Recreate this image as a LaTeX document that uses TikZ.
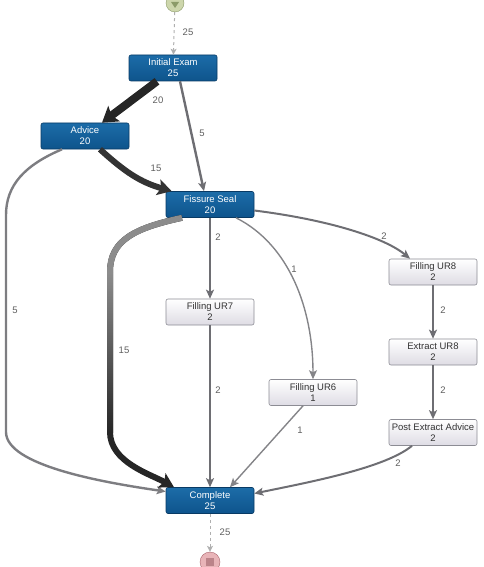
\documentclass[tikz,border=0pt]{standalone}
\usepackage{fontspec}
\setmainfont{Liberation Sans}
\usepackage{tikz}
\usetikzlibrary{arrows.meta, shapes.geometric}
\definecolor{myblue}{RGB}{14,84,140}
\definecolor{mybluetop}{RGB}{28,108,168}
\definecolor{mybluedark}{RGB}{8,58,100}
\definecolor{mylight}{RGB}{222,220,228}
\definecolor{myframe}{RGB}{140,140,148}
\definecolor{myedge}{RGB}{110,110,115}
\definecolor{mylabel}{RGB}{95,95,95}
\definecolor{mydash}{RGB}{175,175,175}
\definecolor{mystart}{RGB}{205,214,172}
\definecolor{mystartdark}{RGB}{140,155,105}
\definecolor{myend}{RGB}{232,180,184}
\definecolor{myenddark}{RGB}{170,100,108}
\tikzset{
  actblock/.style={rectangle, draw=mybluedark, top color=mybluetop, bottom color=myblue,
    text=white, minimum width=88pt, minimum height=26pt, inner sep=1pt,
    align=center, rounded corners=2pt, line width=0.6pt,
    font=\fontsize{9.5}{11}\selectfont},
  lightblock/.style={rectangle, draw=myframe, top color=white, bottom color=mylight,
    text=black!80, minimum width=88pt, minimum height=26pt, inner sep=1pt,
    align=center, rounded corners=2pt, line width=0.6pt,
    font=\fontsize{9.5}{11}\selectfont},
  elabel/.style={font=\fontsize{9.5}{10}\selectfont, text=mylabel, inner sep=0pt},
  flow/.style={-{Stealth[length=9pt, width=8pt, inset=2pt]}, line width=2pt, color=myedge},
  thinflow/.style={-{Stealth[length=9pt, width=8pt, inset=2pt]}, line width=1.4pt, color=myedge!85},
  dashflow/.style={-{Stealth[length=6pt, width=6pt, inset=1.5pt]}, line width=1pt, color=mydash, dashed}
}
\begin{document}
\begin{tikzpicture}[x=1pt, y=-1pt]
  \useasboundingbox (0,0) rectangle (483,567);

  % start / end markers
  \node[circle, draw=mystartdark, fill=mystart, minimum size=18pt, inner sep=0pt] (start) at (175,3) {};
  \fill[mystartdark] (start.center) +(-4,-1) -- +(4,-1) -- +(0,5) -- cycle;
  \node[circle, draw=myenddark, fill=myend, minimum size=20pt, inner sep=0pt] (stop) at (210,562) {};
  \fill[myenddark!80] (stop.center) +(-4,-4) rectangle +(4,4);

  % activities
  \node[actblock] (exam) at (173,68) {Initial Exam\\25};
  \node[actblock] (advice) at (85,136) {Advice\\20};
  \node[actblock] (seal) at (210,204.5) {Fissure Seal\\20};
  \node[lightblock] (ur8) at (433,272) {Filling UR8\\2};
  \node[lightblock] (ur7) at (210,312) {Filling UR7\\2};
  \node[lightblock] (extract) at (433,352) {Extract UR8\\2};
  \node[lightblock] (ur6) at (313,392.5) {Filling UR6\\1};
  \node[lightblock] (post) at (433,432.5) {Post Extract Advice\\2};
  \node[actblock] (complete) at (210,500.5) {Complete\\25};

  % bends of the long paths
  \coordinate (advtop) at (6,215);
  \coordinate (advbot) at (6,432);
  \coordinate (sealtop) at (110,272);
  \coordinate (sealbot) at (110,432);

  \draw[dashflow] (start) -- (exam) node[elabel] at (188,32) {25};
  \draw[-{Stealth[length=15pt, width=19pt, inset=3pt]}, line width=8pt, color=black!85]
    ([xshift=-16pt]exam.south) -- ([xshift=17pt]advice.north) node[elabel] at (158,100) {20};
  \draw[flow, line width=2.4pt, color=myedge]
    ([xshift=7pt]exam.south) -- ([xshift=-6pt]seal.north) node[elabel] at (202,133) {5};
  \draw[-{Stealth[length=14pt, width=16pt, inset=3pt]}, line width=6pt, color=black!80]
    ([xshift=15pt]advice.south) .. controls (125,172) and (140,182) .. ([xshift=6pt]seal.north west)
    node[elabel] at (156,168) {15};
  \draw[flow, line width=2.4pt, color=myedge!90]
    ([xshift=-23pt]advice.south) .. controls (25,165) and (6,185) .. (advtop) -- (advbot)
    .. controls (6,465) and (100,482) .. ([yshift=9pt]complete.west)
    node[elabel] at (15,310) {5};
  \draw[-{Stealth[length=14pt, width=16pt, inset=3pt]}, line width=6pt, color=black!85]
    ([xshift=-28pt]seal.south) .. controls (135,228) and (110,240) .. (sealtop) -- (sealbot)
    .. controls (110,462) and (150,474) .. ([xshift=-36pt]complete.north)
    node[elabel] at (124,350) {15};
  % lighter upper part of the 15 path
  \draw[line width=6pt, color=black!45]
    ([xshift=-28pt]seal.south) .. controls (135,228) and (110,240) .. (sealtop);
  \shade[top color=black!45, bottom color=black!85] (107,272) rectangle (113,432);
  \draw[flow] (seal.south) -- (ur7.north) node[elabel] at (218,237) {2};
  \draw[thinflow] ([xshift=26pt]seal.south) .. controls (290,245) and (313,310) .. (ur6.north)
    node[elabel] at (294,269) {1};
  \draw[flow] ([yshift=-6pt]seal.east) .. controls (330,220) and (385,238) .. ([xshift=-23pt]ur8.north)
    node[elabel] at (384,236) {2};
  \draw[flow] (ur8.south) -- (extract.north) node[elabel] at (443,310) {2};
  \draw[flow] (extract.south) -- (post.north) node[elabel] at (443,390) {2};
  \draw[flow] (ur7.south) -- (complete.north) node[elabel] at (218,390) {2};
  \draw[thinflow] ([xshift=-10pt]ur6.south) -- ([xshift=20pt]complete.north)
    node[elabel] at (300,430) {1};
  \draw[flow] ([xshift=-21pt]post.south) .. controls (385,468) and (310,482) .. ([yshift=7pt]complete.east)
    node[elabel] at (398,463) {2};
  \draw[dashflow] (complete) -- (stop) node[elabel] at (225,532) {25};
\end{tikzpicture}
\end{document}
